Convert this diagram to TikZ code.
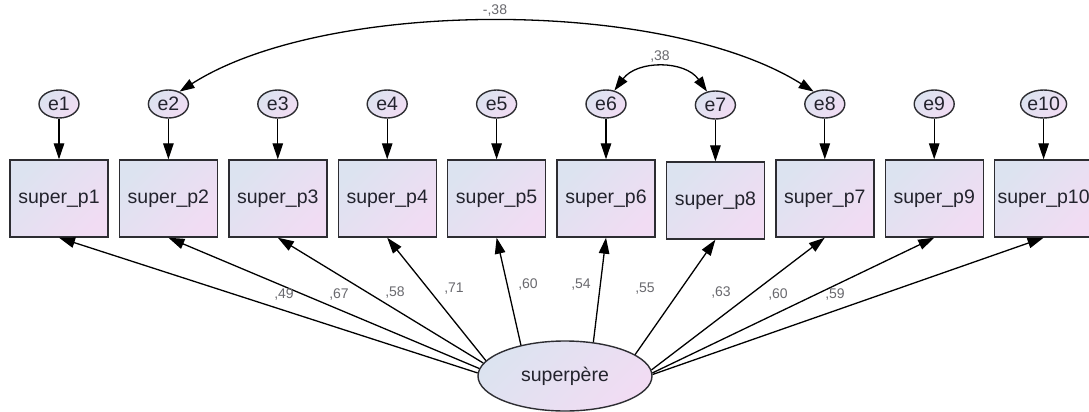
\documentclass[tikz,border=0pt]{standalone}
\usepackage{fontspec}
\setmainfont{Liberation Sans}
\usetikzlibrary{arrows.meta,shapes.geometric}
\definecolor{cA}{RGB}{220,227,240}
\definecolor{cB}{RGB}{241,220,243}
\definecolor{linec}{RGB}{45,45,50}
\definecolor{txtc}{RGB}{35,35,45}
\definecolor{labc}{RGB}{105,105,110}
\tikzset{
  obs/.style={rectangle, draw=linec, line width=1.4, top color=cA, bottom color=cB, shading angle=45,
    minimum width=98, minimum height=77, inner sep=0, text=txtc, font=\fontsize{19.5}{23}\selectfont},
  err/.style={ellipse, draw=linec, line width=1.4, top color=cA, bottom color=cB, shading angle=45,
    minimum width=40, minimum height=28, inner sep=0, text=txtc, font=\fontsize{19.5}{22}\selectfont},
  lat/.style={ellipse, draw=linec, line width=1.4, top color=cA, bottom color=cB, shading angle=45,
    minimum width=174, minimum height=70, inner sep=0, text=txtc, font=\fontsize{19.5}{23}\selectfont},
  arr/.style={draw=black, line width=1.3, -{Triangle[length=16,width=10.5]}},
  cov/.style={draw=black, line width=1.3, {Triangle[length=15,width=10]}-{Triangle[length=15,width=10]}},
  lab/.style={text=labc, inner sep=0, font=\fontsize{14}{16}\selectfont},
}
\begin{document}
\begin{tikzpicture}[x=1pt,y=-1pt]
\useasboundingbox[fill=white] (0,0) rectangle (1089,412);
% observed variables
\node[obs] (p1)  at (59,198.5)    {super\_p1};
\node[obs] (p2)  at (168.4,198.5) {super\_p2};
\node[obs] (p3)  at (277.8,198.5) {super\_p3};
\node[obs] (p4)  at (387.2,198.5) {super\_p4};
\node[obs] (p5)  at (496.6,198.5) {super\_p5};
\node[obs] (p6)  at (606,198.5)   {super\_p6};
\node[obs] (p8)  at (715.4,200.5) {super\_p8};
\node[obs] (p7)  at (824.8,198.5) {super\_p7};
\node[obs] (p9)  at (934.2,198.5) {super\_p9};
\node[obs] (p10) at (1043.6,198.5){super\_p10};
% error terms
\node[err] (e1)  at (59,104)    {e1};
\node[err] (e2)  at (168.4,104) {e2};
\node[err] (e3)  at (277.8,104) {e3};
\node[err] (e4)  at (387.2,104) {e4};
\node[err] (e5)  at (496.6,104) {e5};
\node[err] (e6)  at (606,104)   {e6};
\node[err] (e7)  at (715.4,105) {e7};
\node[err] (e8)  at (824.8,104) {e8};
\node[err] (e9)  at (934.2,104) {e9};
\node[err] (e10) at (1043.6,104){e10};
% latent variable
\node[lat] (sp) at (565,376) {superpère};
% error arrows
\foreach \e/\p in {e1/p1,e2/p2,e3/p3,e4/p4,e5/p5,e6/p6,e7/p8,e8/p7,e9/p9,e10/p10}
  \draw[arr] (\e) -- (\p);
% loadings
\foreach \a/\p in {178.6/p1,175.8/p2,171.9/p3,169.3/p4,145.3/p5,50.4/p6,17.6/p8,4.3/p7,2.7/p9,1.4/p10}
  \draw[arr] (sp.\a) -- (\p.south);
% loading labels
\node[lab] (l1)  at (284,295) {,49};
\node[lab] (l2)  at (339,295) {,67};
\node[lab] (l3)  at (395,293) {,58};
\node[lab] (l4)  at (454,289) {,71};
\node[lab] (l5)  at (528,285) {,60};
\node[lab] (l6)  at (581,285) {,54};
\node[lab] (l7)  at (645,289) {,55};
\node[lab] (l8)  at (721,293) {,63};
\node[lab] (l9)  at (778,295) {,60};
\node[lab] (l10) at (835,295) {,59};
% covariances
\draw[cov] (e2.48) .. controls (326,-2) and (665,-2) .. (e8.132);
\node[lab] (c1) at (495,11) {-,38};
\draw[cov] (e6.58) .. controls (637,60) and (685,60) .. (e7.122);
\node[lab] (c2) at (660,57) {,38};
\end{tikzpicture}
\end{document}
